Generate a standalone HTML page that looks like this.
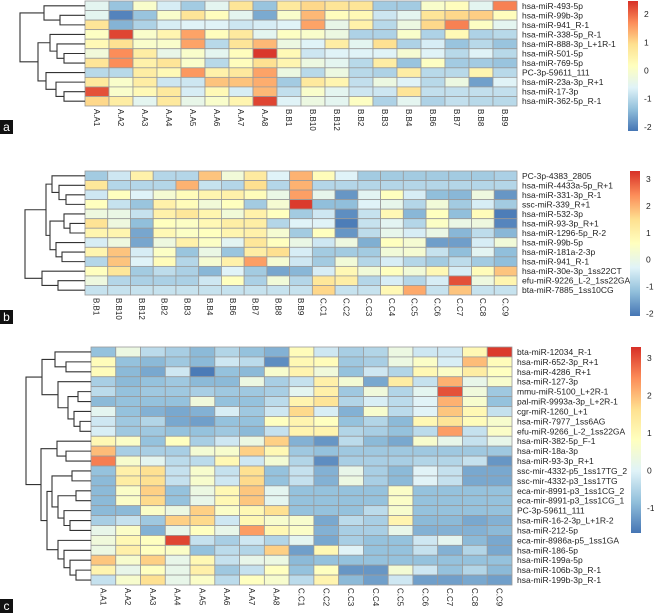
<!DOCTYPE html>
<html><head><meta charset="utf-8"><style>
html,body{margin:0;padding:0;background:#fff;}
svg{display:block;font-family:"Liberation Sans",Arial,sans-serif;}
</style></head><body>
<svg id="fig" width="654" height="613" viewBox="0 0 654 613" xmlns="http://www.w3.org/2000/svg">
<defs>
<linearGradient id="cbar" x1="0" y1="1" x2="0" y2="0">
<stop offset="0" stop-color="#4575B4"/><stop offset="0.1667" stop-color="#91BFDB"/><stop offset="0.3333" stop-color="#E0F3F8"/><stop offset="0.5" stop-color="#FFFFBF"/><stop offset="0.6667" stop-color="#FEE090"/><stop offset="0.8333" stop-color="#FC8D59"/><stop offset="1" stop-color="#D73027"/>
</linearGradient>
</defs>
</svg>
<script>
// ---------- Panel a data ----------
const aRows = ["hsa-miR-493-5p","hsa-miR-99b-3p","hsa-miR-941_R-1","hsa-miR-338-5p_R-1","hsa-miR-888-3p_L+1R-1","hsa-miR-501-5p","hsa-miR-769-5p","PC-3p-59611_111","hsa-miR-23a-3p_R+1","hsa-miR-17-3p","hsa-miR-362-5p_R-1"];
const aCols = ["A.A1","A.A2","A.A3","A.A4","A.A5","A.A6","A.A7","A.A8","B.B1","B.B10","B.B12","B.B2","B.B3","B.B4","B.B6","B.B7","B.B8","B.B9"];
const aValues = [
[-0.5,-1.3,0,-0.7,-1.2,-0.5,0.8,-1.3,0.7,1.0,0.8,0.8,-1.2,-1.2,0,0.2,-0.5,1.8],
[-0.5,-2,-1.3,0,0.8,0.2,-0.5,-1.6,0,1.3,0.2,0.3,-0.8,-0.5,0.8,1.0,1.1,0.2],
[0.8,-1.5,-1.1,-0.7,-0.6,-0.6,-0.8,-0.7,-0.6,1.5,-0.4,0.5,-1.0,-0.3,1.0,1.8,0.1,-0.5],
[0.1,2.3,0,0.4,1.5,0.2,0.7,-0.5,0.1,0,-0.3,-1.1,-1.1,0,-1.1,0.3,-1.1,-1.0],
[0.3,0.9,0,0,1.5,-1.0,0.8,1.3,-0.3,-0.6,0.6,-0.5,0.9,-1.1,-0.7,-1.3,-1.0,-1.3],
[-0.2,1.7,0.6,-0.4,0,-0.5,0.2,2.4,0.3,-0.8,-0.6,-0.6,-0.6,-0.1,-0.6,-1.0,-0.6,-1.0],
[0.8,1.7,0.5,0.8,0,-1.0,0.2,0.9,0.4,-0.3,-0.5,-1.0,0.6,-1.3,0.1,-1.2,-1.2,-1.3],
[-1.0,-1.0,0.6,0.3,1.6,0.5,0.7,1.5,-0.3,-1.0,-0.3,-1.0,-1.1,0.6,-1.0,-1.0,0.4,-1.0],
[0.7,0,0.6,-0.8,-0.8,1.2,1.2,1.4,-1.2,0.7,0.4,-0.9,-0.3,-0.6,-1.0,-0.3,-1.7,-0.6],
[2.2,0,0.3,0.7,-0.7,0.3,-0.7,1.3,-0.9,0,-0.5,-0.8,-0.8,0.8,-0.9,-0.9,-0.9,-0.9],
[1.0,0.6,-0.5,0.7,-0.4,0,0.4,2.3,-0.6,-0.3,-0.5,0.1,-1.1,-0.5,-1.1,-0.9,-1.0,-1.0]];
const aTicks = [2,1,0,-1,-2];
const aTree = [[0,[1,2,60],44],[[3,[4,[5,6,64],57],50],[7,[8,[9,10,64],56],46],38],20];

// ---------- Panel b data ----------
const bRows = ["PC-3p-4383_2805","hsa-miR-4433a-5p_R+1","hsa-miR-331-3p_R-1","ssc-miR-339_R+1","hsa-miR-532-3p","hsa-miR-93-3p_R+1","hsa-miR-1296-5p_R-2","hsa-miR-99b-5p","hsa-miR-181a-2-3p","hsa-miR-941_R-1","hsa-miR-30e-3p_1ss22CT","efu-miR-9226_L-2_1ss22GA","bta-miR-7885_1ss10CG"];
const bCols = ["B.B1","B.B10","B.B12","B.B2","B.B3","B.B4","B.B6","B.B7","B.B8","B.B9","C.C1","C.C2","C.C3","C.C4","C.C5","C.C6","C.C7","C.C8","C.C9"];
const bValues = [
[-1.0,-0.5,1.0,-0.8,-0.8,1.8,0.2,1.2,-0.3,2.0,0.7,-0.3,-1.0,-1.0,-1.0,-1.0,-1.0,-1.0,-0.9],
[1.3,-0.8,-0.8,-0.8,2.0,-0.6,-0.8,1.5,-0.8,2.0,-0.8,-0.8,-0.8,-0.8,-0.8,-0.8,-0.8,-0.8,-0.8],
[-0.5,0.6,-0.3,0.3,0.7,0.9,1.0,0.7,0,2.2,-0.1,-1.7,-0.2,0.6,-0.4,-1.2,-1.3,0.1,-1.7],
[0.6,-0.6,-1.1,1.0,0.7,0.2,0.6,-1.0,0.3,3.2,-1.2,-1.2,-0.3,-0.1,-0.8,0.2,-1.0,-0.4,-1.0],
[0.1,0,-0.6,1.0,1.3,0.9,0.2,1.0,0.6,-1.0,-0.5,-1.8,-0.6,0.8,-1.3,0.6,-1.2,0.7,-2.0],
[1.4,0.1,-1.2,0.6,0.5,0.8,1.1,1.1,-0.8,-0.3,-0.3,-2.0,-0.6,-0.2,-0.8,0.5,0,0.1,-1.9],
[0.9,0.9,-1.5,0.8,0.5,0.6,0.9,1.0,0.3,-1.0,0.6,-1.7,-0.7,-0.1,-0.4,0,-1.3,-0.7,-1.3],
[-0.4,0.1,-1.5,0.1,1.0,0.5,-0.2,1.3,0.6,0,-0.5,0.1,-1.4,0.6,0.3,-1.6,-1.6,-0.4,0.2],
[0.9,1.8,-0.4,0.5,-1.1,0,-1.1,1.1,1.5,-0.4,-1.0,-1.0,-1.0,0.2,0.3,-0.6,-1.2,-0.2,-1.2],
[-0.8,1.8,-0.3,0.7,-0.8,0.3,1.0,2.2,0.3,-0.5,-1.0,0.2,-0.8,-0.4,-0.8,-1.0,-0.7,-1.0,-1.2],
[0.6,1.3,-1.0,-0.7,-0.9,-1.3,-0.3,-1.0,-1.5,-1.3,-0.4,0.8,0.2,0.6,0.2,0.8,-0.4,0.7,1.8],
[0.1,-0.8,-0.9,-0.9,-0.9,-0.5,0.6,-0.9,0.2,-0.8,1.3,1.1,-0.8,-0.4,-0.8,-0.4,3.0,0.1,0.9],
[-0.6,-0.6,-0.6,-0.6,-0.6,-0.6,-0.6,-0.6,-0.6,-0.6,1.6,-0.6,-0.6,0.8,2.1,-0.6,1.8,-0.6,-0.6]];
const bTicks = [3,2,1,0,-1,-2];
const bTop = [[0,[1,[2,3,66],59],52],[[4,[5,6,70],64],[7,[8,9,62],56],50],46];
const bTree = [bTop,[10,[11,12,58],42],25];

// ---------- Panel c data ----------
const cRows = ["bta-miR-12034_R-1","hsa-miR-652-3p_R+1","hsa-miR-4286_R+1","hsa-miR-127-3p","mmu-miR-5100_L+2R-1","pal-miR-9993a-3p_L+2R-1","cgr-miR-1260_L+1","hsa-miR-7977_1ss6AG","efu-miR-9266_L-2_1ss22GA","hsa-miR-382-5p_F-1","hsa-miR-18a-3p","hsa-miR-93-3p_R+1","ssc-mir-4332-p5_1ss17TG_2","ssc-mir-4332-p3_1ss17TG","eca-mir-8991-p3_1ss1CG_2","eca-mir-8991-p3_1ss1CG_1","PC-3p-59611_111","hsa-miR-16-2-3p_L+1R-2","hsa-miR-212-5p","eca-mir-8986a-p5_1ss1GA","hsa-miR-186-5p","hsa-miR-199a-5p","hsa-miR-106b-3p_R-1","hsa-miR-199b-3p_R-1"];
const cCols = ["A.A1","A.A2","A.A3","A.A4","A.A5","A.A6","A.A7","A.A8","C.C1","C.C2","C.C3","C.C4","C.C5","C.C6","C.C7","C.C8","C.C9"];
const cValues = [
[-0.8,0.3,-0.4,-0.6,-0.9,-0.5,-0.8,-1.0,0.9,-0.2,-0.6,-0.5,0.3,-0.2,-0.2,1.0,3.2],
[0.9,-0.8,-0.9,-0.7,-0.9,-0.2,-0.4,-1.4,1.0,0.9,-0.7,-0.6,0.3,0.7,-0.1,2.0,0.9],
[0.9,-0.9,-1.1,-0.2,-1.6,-0.8,-0.9,0.6,1.1,0.4,-0.8,-0.2,-0.5,1.0,0.7,1.3,0.8],
[-0.6,-0.9,-0.8,-0.7,-0.9,-0.9,0.3,-0.6,-0.3,1.2,0.5,-1.1,1.3,-0.3,2.1,0.2,0.6],
[-0.4,-0.8,-0.7,-0.7,-0.6,-0.7,-0.7,-0.6,0.1,1.2,-0.7,0.4,-0.5,0.1,3.0,0.4,-0.7],
[-0.9,-0.8,-0.8,-0.8,0.4,-0.8,-0.8,-0.4,1.1,1.5,-0.5,-0.1,-0.4,0,2.1,0.6,-0.8],
[0.1,-0.8,-1.0,-1.1,-1.0,-0.1,-0.7,-0.2,1.7,-0.1,-1.0,0.6,-0.4,0,1.9,1.0,-0.3],
[-0.2,-0.7,-0.5,-1.1,-1.2,-0.8,-0.8,0.8,1.1,0.8,-0.8,-0.5,-0.9,1.0,1.5,0.9,0.6],
[-0.1,-0.7,-0.7,-0.8,-0.8,-0.7,-0.9,-0.3,1.1,1.1,-0.5,-0.6,-0.8,-0.4,2.3,-0.3,0.7],
[1.0,0.7,-0.8,0.8,-0.6,-0.2,0.3,1.8,-1.0,-1.3,-0.4,-0.9,-1.1,0.6,0.2,-0.3,0.2],
[2.0,-0.6,-0.6,-0.6,0.5,0.6,1.8,1.0,-0.7,-0.8,-0.7,-0.7,-0.7,-0.7,-0.7,-0.7,-0.7],
[2.6,0.6,0.1,-0.4,-0.4,1.0,-0.2,0.5,-0.5,-1.4,-0.6,-0.6,-0.6,-0.5,-0.5,-0.3,-1.3],
[-0.8,1.2,1.6,-0.3,0.6,-0.3,1.6,-0.8,-0.3,-1.0,0.2,-0.6,-0.9,0,-0.3,-1.1,-1.1],
[-0.9,1.3,1.6,-0.3,0.6,-0.2,1.7,-0.8,-0.3,-1.0,0.3,-0.6,-0.9,0,-0.3,-1.1,-1.1],
[-0.9,0.7,1.8,-0.8,0.3,1.0,1.9,0.1,-0.8,-0.8,-0.8,-0.8,0.7,-0.8,-0.8,-0.8,-0.8],
[-0.9,0.7,1.7,-0.8,0.2,1.0,1.9,0.1,-0.8,-0.8,-0.8,-0.8,0.7,-0.8,-0.8,-0.8,-0.8],
[-0.9,-0.9,0.7,0.3,1.8,0.7,1.0,1.6,-0.8,-0.8,-0.8,-0.4,0.6,-0.8,-0.8,-0.8,-0.8],
[-0.6,-0.3,-0.7,1.8,1.7,-0.2,1.0,0.6,0.6,-1.1,-0.4,-0.6,1.1,-0.9,-0.9,-1.1,-1.0],
[0.2,0.7,-1.0,0.2,0.8,0.2,2.3,1.0,0.7,-1.0,-0.6,-0.6,0.2,-1.0,-1.0,-1.0,-0.9],
[0.4,1.0,0.8,3.1,-0.3,-0.6,-0.2,-0.5,0.1,-1.1,-0.6,-0.8,-0.8,-0.2,0.1,-0.9,-1.1],
[0.3,1.2,0.8,0.7,-0.8,-0.4,-0.5,1.8,-1.2,1.0,0,-0.8,-0.8,-0.3,-1.0,-0.5,-1.1],
[1.9,0.6,1.8,0.2,1.0,-0.3,0.2,0.3,-0.9,-0.8,-0.8,-0.8,-0.8,-0.8,-0.8,-0.8,-0.8],
[1.1,0.2,0.8,0.2,1.2,-0.7,-0.3,0.8,-0.8,0.8,-1.3,-1.3,0.5,-0.2,-0.8,-0.5,-0.9],
[-0.3,0.6,1.6,0.2,0.7,-0.4,0.8,0.6,-0.4,1.1,-0.9,-1.2,-0.2,-1.2,-1.2,-1.1,-1.2]];
const cTicks = [3,2,1,0,-1];
const cTopTree = [[0,[1,2,66],55],[3,[[4,5,78],[6,[7,8,80],74],68],58],42];
const c12to18 = [[12,13,72],[[14,15,76],[16,[17,18,70],64],58],52];
const c19to23 = [19,[20,[21,[22,23,76],70],64],58];
const cBottomTree = [[9,[10,11,66],57],[c12to18,c19to23,47],41];
const cTree = [cTopTree,cBottomTree,26];

const NS = "http://www.w3.org/2000/svg";
const svg = document.getElementById("fig");
const PAL = [[69,117,180],[145,191,219],[224,243,248],[255,255,191],[254,224,144],[252,141,89],[215,48,39]];
function colorOf(v, lo, hi){
  let t = (v-lo)/(hi-lo); t = Math.max(0,Math.min(1,t))*6;
  const i = Math.min(5, Math.floor(t)), f = t-i;
  const a = PAL[i], b = PAL[i+1];
  return "rgb(" + a.map((c,k)=>Math.round(c+(b[k]-c)*f)).join(",") + ")";
}
function mk(tag, attrs, parent){
  const e = document.createElementNS(NS, tag);
  for (const k in attrs) e.setAttribute(k, attrs[k]);
  (parent||svg).appendChild(e);
  return e;
}

function panel(p){
  const g = mk("g", {});
  
  
  const nR = p.rows.length, nC = p.cols.length;
  const cw = (p.x1-p.x0)/nC, rh = (p.y1-p.y0)/nR;
  const xOf = c => p.x0 + c*cw;
  const yOf = r => p.y0 + r*rh;
  p.values.forEach((row, r) => row.forEach((v, c) => {
    const rect = mk("rect", {x:xOf(c), y:yOf(r), width:cw, height:rh, fill:colorOf(v,p.lo,p.hi), stroke:"#9a9a9a", "stroke-width":0.8}, g);
    
    
  }));
  p.rows.forEach((name, r) => {
    const t = mk("text", {x:p.x1+5, y:yOf(r)+rh/2+3, "font-size":p.fs, fill:"#222"}, g);
    t.textContent = name;
    
    
  });
  p.cols.forEach((name, c) => {
    const cx = xOf(c)+cw/2 - 3, cy = p.y1 + 3;
    const t = mk("text", {x:cx, y:cy, "font-size":8, fill:"#222", transform:"rotate(90 "+cx+" "+cy+")"}, g);
    t.textContent = name;
    
    
  });
  function draw(node){
    if (typeof node === "number") return {y: yOf(node)+rh/2, x: p.x0};
    const L = draw(node[0]), R = draw(node[1]), h = node[2];
    const path = mk("path", {d:"M"+L.x+" "+L.y+"H"+h+"V"+R.y+"H"+R.x, fill:"none", stroke:"#333", "stroke-width":1.1}, g);
    
    
    return {y:(L.y+R.y)/2, x:h};
  }
  draw(p.tree);
  const cb = mk("rect", {x:p.cbx, y:p.cby0, width:10, height:p.cby1-p.cby0, fill:"url(#cbar)"}, g);
  
  
  const vy = v => p.cby1 - (v-p.lo)/(p.hi-p.lo)*(p.cby1-p.cby0);
  p.ticks.forEach(v => {
    const t = mk("text", {x:p.cbx+16, y:vy(v)+3, "font-size":8.5, fill:"#222"}, g);
    t.textContent = v;
    
    
  });
  const box = mk("rect", {x:0, y:p.ly, width:13, height:14, fill:"#111"}, g);
  
  
  const lt = mk("text", {x:6.5, y:p.ly+11, "font-size":12, fill:"#fff", "text-anchor":"middle"}, g);
  lt.textContent = p.id;
  
  
}

panel({id:"a", rows:aRows, cols:aCols, values:aValues, tree:aTree, ticks:aTicks,
  x0:85, x1:517, y0:1, y1:106, lo:-2.15, hi:2.47, cbx:628, cby0:1, cby1:131, fs:8.5, ly:120});
panel({id:"b", rows:bRows, cols:bCols, values:bValues, tree:bTree, ticks:bTicks,
  x0:85, x1:517, y0:171, y1:295, lo:-2.1, hi:3.3, cbx:630, cby0:171, cby1:316, fs:8.5, ly:310});
panel({id:"c", rows:cRows, cols:cCols, values:cValues, tree:cTree, ticks:cTicks,
  x0:91, x1:512, y0:347, y1:585, lo:-1.67, hi:3.29, cbx:631, cby0:347, cby1:533, fs:8.5, ly:599});
</script>
</body></html>
